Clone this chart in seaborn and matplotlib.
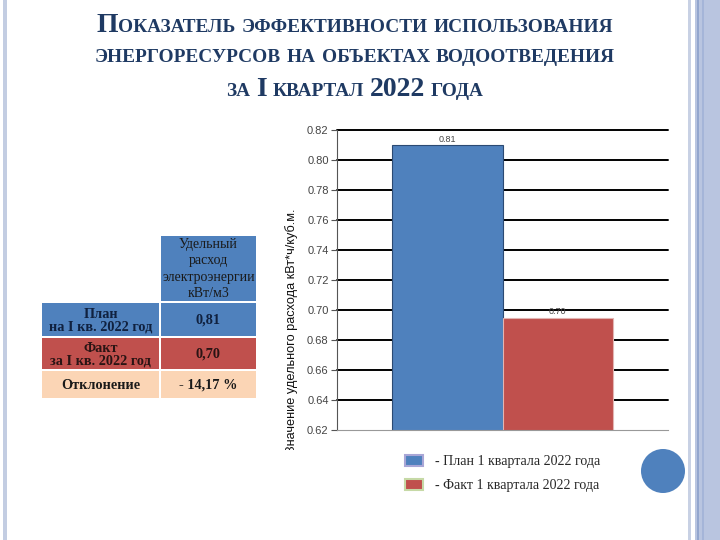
import numpy as np
import pandas as pd
import matplotlib
matplotlib.use("Agg")
import matplotlib.pyplot as plt
import seaborn as sns
from matplotlib.patches import Rectangle, Ellipse
from matplotlib.offsetbox import TextArea, HPacker, AnnotationBbox
from matplotlib.transforms import Bbox, TransformedBbox

# ---------------- data ----------------
group = ["I кв. 2022"]
series = ["План 1 квартала 2022 года", "Факт 1 квартала 2022 года"]
values = [0.81, 0.695]
value_labels = ["0.81", "0.70"]
y_ticks = [0.62, 0.64, 0.66, 0.68, 0.70, 0.72, 0.74, 0.76, 0.78, 0.80, 0.82]
ylabel = "Значение удельного расхода кВт*ч/куб.м."

table_header = "Удельный\nрасход\nэлектроэнергии\nкВт/м3"
table_rows = ["План\nна I кв. 2022 год", "Факт\nза I кв. 2022 год", "Отклонение"]
table_values = ["0,81", "0,70", "- 14,17 %"]

title_lines = ["Показатель эффективности использования",
               "энергоресурсов на объектах водоотведения",
               "за I квартал 2022 года"]

BLUE = "#4F81BD"
RED = "#C0504D"
PEACH = "#FBD5B5"
NAVY = "#1F3A63"

sns.set_theme(style="white")
plt.rcParams['font.family'] = ['Liberation Sans', 'DejaVu Sans']

fig = plt.figure(figsize=(7.2, 5.4), dpi=100)
fig.patch.set_facecolor("white")

# background / overlay axes in pixel units
bg = fig.add_axes([0, 0, 1, 1], zorder=0)
bg.set_xlim(0, 720)
bg.set_ylim(540, 0)
bg.axis("off")

# slide borders
bg.add_patch(Rectangle((3, 0), 4, 540, color="#C3CDE2", lw=0))
bg.add_patch(Rectangle((688, 0), 3, 540, color="#C8D1E4", lw=0))
bg.add_patch(Rectangle((695, 0), 25, 540, color="#B9C5E0", lw=0))
bg.add_patch(Rectangle((697, 0), 2, 540, color="#93A6CE", lw=0))
bg.add_patch(Rectangle((702, 0), 1.5, 540, color="#A5B5D8", lw=0))

# decorative circle
bg.add_patch(Ellipse((663, 471), 44, 44, color=BLUE, lw=0))


# ---------------- title (small caps) ----------------
def smallcaps_line(text, big, small, color, space):
    word_boxes = []
    for w in text.split(" "):
        pieces = []
        cur, cur_big = "", None
        for ch in w:
            isbig = ch.isupper() or ch.isdigit()
            if cur and isbig != cur_big:
                pieces.append((cur, cur_big))
                cur = ""
            cur += ch.upper()
            cur_big = isbig
        pieces.append((cur, cur_big))
        tas = [TextArea(s, textprops=dict(fontsize=big if b else small, fontweight="bold",
                                          family="Liberation Serif", color=color))
               for s, b in pieces]
        word_boxes.append(HPacker(children=tas, align="baseline", pad=0, sep=0))
    return HPacker(children=word_boxes, align="baseline", pad=0, sep=space)


for line, yc in zip(title_lines, [25, 57, 89]):
    box = smallcaps_line(line, 20, 13.9, NAVY, 4.2)
    ab = AnnotationBbox(box, (355, yc), xycoords="data", frameon=False,
                        box_alignment=(0.5, 0.5), pad=0)
    bg.add_artist(ab)

# ---------------- table ----------------
serif = "Liberation Serif"
bg.add_patch(Rectangle((161, 236), 95, 65, facecolor=BLUE, edgecolor="none"))
bg.text(208.5, 269, table_header, ha="center", va="center", fontsize=10,
        family=serif, color="#1A1A1A", linespacing=1.32)
row_y = [(303, 33), (338, 31), (371, 27)]
row_col = [BLUE, RED, PEACH]
row_txt = ["#10213F", "#2A1414", "#1A1A1A"]
for (y0, h), col, tc, lab, val in zip(row_y, row_col, row_txt, table_rows, table_values):
    bg.add_patch(Rectangle((42, y0), 117, h, facecolor=col, edgecolor="none"))
    bg.add_patch(Rectangle((161, y0), 95, h, facecolor=col, edgecolor="none"))
    bg.text(100.5, y0 + h / 2 + 1, lab, ha="center", va="center", fontsize=10.3,
            fontweight="bold", family=serif, color=tc, linespacing=1.0)
    bg.text(208.5, y0 + h / 2 + 1, val, ha="center", va="center", fontsize=10.3,
            fontweight="bold", family=serif, color=tc)

# ---------------- bar chart ----------------
ax = fig.add_axes([337 / 720, 1 - 430 / 540, 331 / 720, 300 / 540], zorder=2)
df = pd.DataFrame({"group": group * len(series), "series": series, "value": values})
sns.barplot(data=df, x="group", y="value", hue="series", palette=[BLUE, RED],
            width=0.668, saturation=1, ax=ax, legend=False)

edge_cols = ["#2B4A73", "#E2B5B3"]
for cont, ec in zip(ax.containers, edge_cols):
    for p in cont.patches:
        p.set_edgecolor(ec)
        p.set_linewidth(0.8)

ax.set_xlim(-0.5, 0.5)
ax.set_ylim(y_ticks[0], y_ticks[-1])
ax.set_yticks(y_ticks)
ax.set_yticklabels([f"{t:.2f}" for t in y_ticks])
ax.set_xticks([])
ax.set_xlabel("")
ax.set_ylabel("")
ax.set_facecolor("white")

ax.yaxis.grid(True, color="black", lw=1.4)
ax.set_axisbelow(True)
gls = ax.get_ygridlines()
gls[0].set_visible(False)
for gl in gls:
    gl.set_clip_on(False)

for s in ["top", "right"]:
    ax.spines[s].set_visible(False)
ax.spines["left"].set_color("#555555")
ax.spines["left"].set_linewidth(0.8)
ax.spines["bottom"].set_color("#999999")
ax.spines["bottom"].set_linewidth(0.8)
ax.tick_params(axis="y", left=True, length=4, width=0.8, color="#555555",
               labelsize=8, labelcolor="#444444", pad=2)

for cont, lab in zip(ax.containers, value_labels):
    ax.bar_label(cont, labels=[lab], fontsize=6.5, color="#444444", padding=1)

# rotated y label (clipped at bottom like the original)
t = fig.text(292 / 720, 1 - 331 / 540, ylabel, rotation=90, ha="center", va="center",
             fontsize=9.2, color="#111111")
t.set_clip_box(TransformedBbox(Bbox([[0, 90 / 540], [1, 1]]), fig.transFigure))
t.set_clip_on(True)

# ---------------- legend ----------------
handles = [c.patches[0] for c in ax.containers]
leg = fig.legend(handles, ["- " + s for s in series], loc="upper left",
                 bbox_to_anchor=(402 / 720, 1 - 452 / 540), frameon=False,
                 prop=dict(family=serif, size=10), handlelength=1.3, handleheight=0.9,
                 handletextpad=0.9, labelspacing=0.75, borderaxespad=0, borderpad=0.2)
for h, ec in zip(leg.legend_handles, ["#A9A6D6", "#C6D9A6"]):
    h.set_edgecolor(ec)
    h.set_linewidth(1.5)

fig.savefig("out.png", dpi=100)
